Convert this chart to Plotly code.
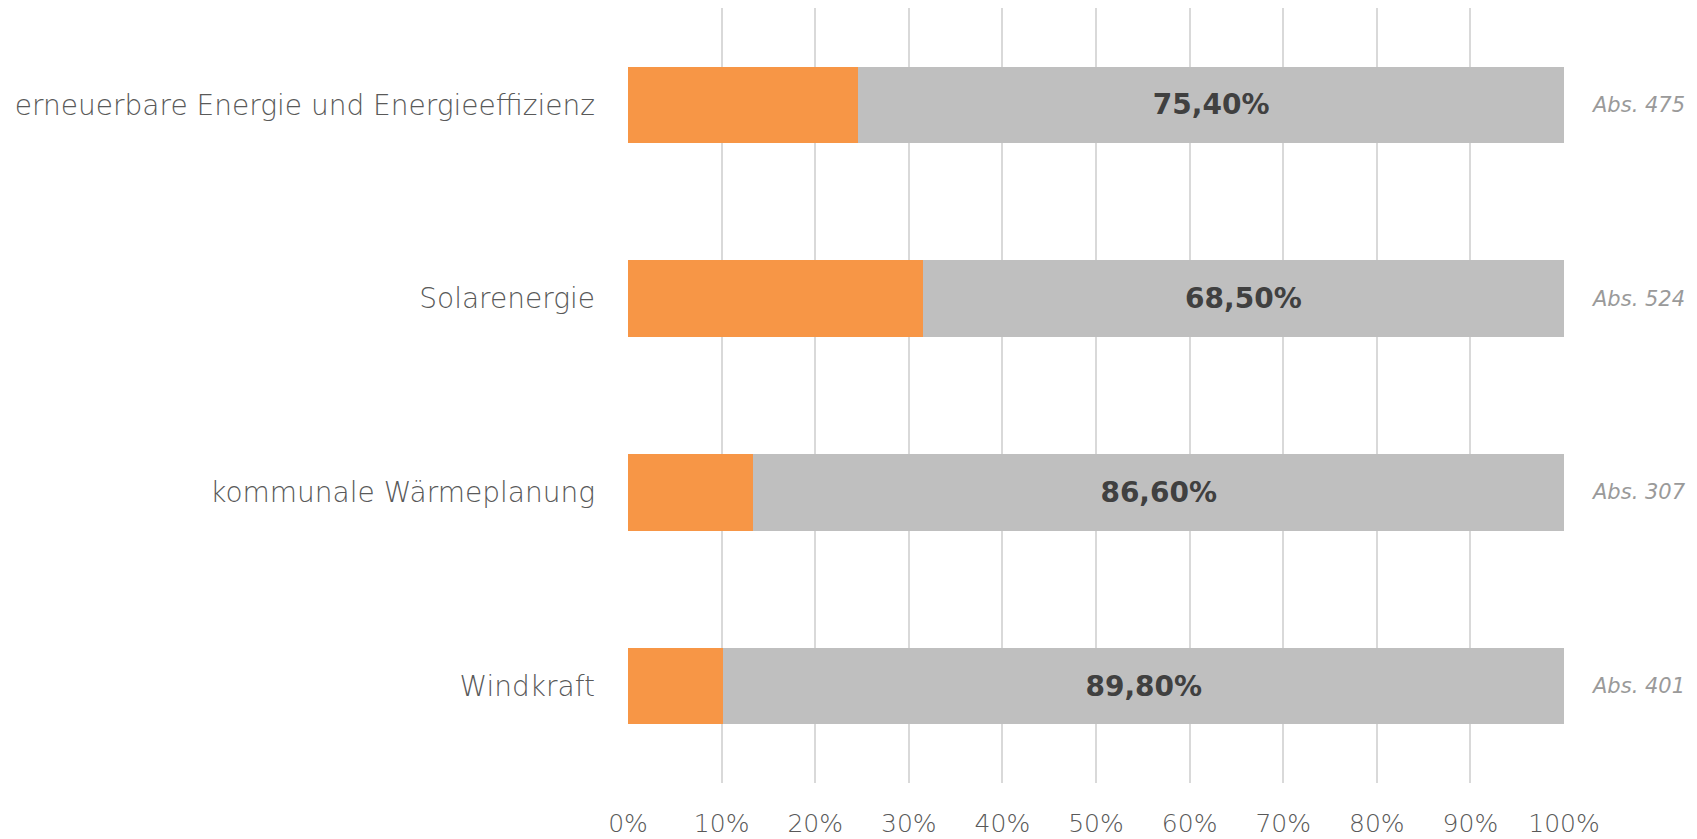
import plotly.graph_objects as go

categories = ["erneuerbare Energie und Energieeffizienz", "Solarenergie",
              "kommunale Wärmeplanung", "Windkraft"]
orange_vals = [24.6, 31.5, 13.4, 10.2]
grey_vals = [75.4, 68.5, 86.6, 89.8]
grey_labels = ["75,40%", "68,50%", "86,60%", "89,80%"]
abs_labels = ["Abs. 475", "Abs. 524", "Abs. 307", "Abs. 401"]
tick_vals = [0, 10, 20, 30, 40, 50, 60, 70, 80, 90, 100]
tick_text = ["0%", "10%", "20%", "30%", "40%", "50%", "60%", "70%", "80%", "90%", "100%"]

FONT = "DejaVu Sans"

fig = go.Figure()
fig.add_trace(go.Bar(
    y=categories, x=orange_vals, orientation="h",
    marker=dict(color="#F79646", line=dict(width=0)),
    hoverinfo="skip", showlegend=False,
))
fig.add_trace(go.Bar(
    y=categories, x=grey_vals, orientation="h",
    marker=dict(color="#BFBFBF", line=dict(width=0)),
    text=grey_labels, textposition="inside", insidetextanchor="middle",
    textfont=dict(family=FONT, size=28, color="#404040", weight="bold"),
    hoverinfo="skip", showlegend=False,
))

for cat, lab in zip(categories, abs_labels):
    fig.add_annotation(
        x=1.0, xref="paper", y=cat, yref="y", xanchor="left", xshift=25,
        text=lab, showarrow=False,
        font=dict(family=FONT, size=21, color="#9a9a9a", style="italic", weight=200),
    )

# page body adds an 8px offset, so the figure is sized/margined to compensate
fig.update_layout(
    barmode="stack",
    bargap=0.605,
    width=1689, height=831,
    margin=dict(l=620, r=133, t=0, b=56),
    paper_bgcolor="white", plot_bgcolor="white",
    font=dict(family=FONT, color="#595959"),
    uniformtext=dict(mode="show", minsize=10),
)
fig.update_xaxes(
    range=[0, 100], tickvals=tick_vals, ticktext=tick_text,
    showgrid=True, gridcolor="#D9D9D9", gridwidth=2,
    zeroline=False, showline=False, ticks="", automargin=False,
    tickfont=dict(family=FONT, size=25, color="#595959", weight=200),
    ticklabelstandoff=23, fixedrange=True,
)
fig.update_yaxes(
    categoryorder="array", categoryarray=categories[::-1],
    showgrid=False, zeroline=False, showline=False, ticks="", automargin=False,
    tickfont=dict(family=FONT, size=28, color="#595959", weight=200),
    ticklabelstandoff=32, fixedrange=True,
)

fig.write_html("out.html", config={"displayModeBar": False})
